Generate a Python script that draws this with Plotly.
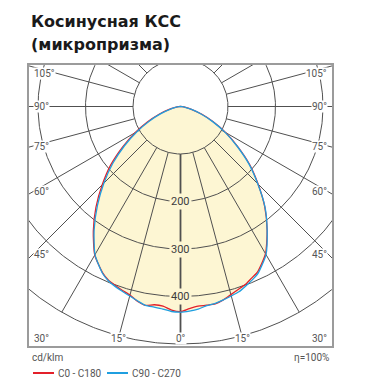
import numpy as np
import plotly.graph_objects as go

# ---------------------------------------------------------------------------
# Data
# ---------------------------------------------------------------------------
title_lines = ["Косинусная КСС", "(микропризма)"]
unit_label = "cd/klm"
efficiency_label = "η=100%"
series_names = ["C0 - C180", "C90 - C270"]

# Gamma angles from nadir, degrees
gamma = [0, 2.5, 5, 7.5, 10, 12.5, 15, 17.5, 20, 22.5, 25,
         30, 35, 40, 45, 50, 55, 60, 65, 70, 75, 80, 85, 90]

# Luminous intensity, cd/klm, per C-plane
c0 = [432, 426, 422, 422, 422, 417, 410, 404, 399, 391, 384,
      358, 318, 276, 231, 190, 147, 110, 76, 48, 25, 11, 4, 0]
c180 = [432, 429, 422, 421, 425, 420, 411, 406, 401, 396, 387,
        361, 320, 277, 233, 192, 149, 111, 77, 49, 26, 11, 4, 0]
c90 = [433, 431, 428, 423, 421, 417, 413, 409, 402, 395, 387,
       360, 318, 277, 230, 188, 145, 108, 74, 46, 24, 10, 3, 0]
c270 = [433, 432, 428, 426, 425, 419, 413, 408, 403, 397, 388,
        360, 317, 272, 228, 186, 144, 106, 72, 45, 23, 9, 3, 0]

ring_values = [100, 200, 300, 400, 500]
ring_label_values = [200, 300, 400]
spoke_angles = list(range(-180, 181, 15))
angle_label_values = [0, 15, 30, 45, 60, 75, 90, 105]

# ---------------------------------------------------------------------------
# Styling / geometry
# ---------------------------------------------------------------------------
W, H = 366, 383
ML, MR, MT, MB = 29, 34, 65, 37
PW, PH = W - ML - MR, H - MT - MB
PX_PER_UNIT = 0.475
CX, CY = 180.5, 106.5          # pole position on the page, px

x_range = [-(CX - ML) / PX_PER_UNIT, (W - MR - CX) / PX_PER_UNIT]
y_range = [-(H - MB - CY) / PX_PER_UNIT, (CY - MT) / PX_PER_UNIT]

FILL = "rgb(253,246,211)"
GRID = "#505050"
RED = "#e3202a"
BLUE = "#1f9fe0"
LABEL_FONT = dict(family="Roboto, sans-serif", size=10, color="#555555")


def paper_x(px):
    return (px - ML) / PW


def paper_y(py):
    return 1 - (py - MT) / PH


def polar_xy(theta_deg, r):
    t = np.radians(np.asarray(theta_deg, dtype=float))
    r = np.asarray(r, dtype=float)
    return r * np.sin(t), -r * np.cos(t)


def profile(left, right):
    """Full -90..90 profile: left half-plane mirrored to negative angles."""
    g = np.asarray(gamma, dtype=float)
    ang = np.concatenate([-g[::-1], g[1:]])
    val = np.concatenate([np.asarray(left)[::-1], np.asarray(right)[1:]])
    return polar_xy(ang, val)


fig = go.Figure()

# Filled light body
fx, fy = profile(c270, c90)
fig.add_trace(go.Scatter(x=fx, y=fy, mode="lines", fill="toself",
                         fillcolor=FILL, line=dict(width=0, shape="spline", smoothing=0.6),
                         hoverinfo="skip", showlegend=False))

# Rings
ring_x, ring_y = [], []
th = np.linspace(0, 360, 721)
for rv in ring_values:
    x, y = polar_xy(th, np.full_like(th, rv))
    ring_x += list(x) + [None]
    ring_y += list(y) + [None]
fig.add_trace(go.Scatter(x=ring_x, y=ring_y, mode="lines",
                         line=dict(color=GRID, width=1),
                         hoverinfo="skip", showlegend=False))

# Spokes from the inner ring to the outer ring
sp_x, sp_y = [], []
for a in spoke_angles:
    if a == 0:
        continue
    x, y = polar_xy([a, a], [ring_values[0], ring_values[-1]])
    sp_x += list(x) + [None]
    sp_y += list(y) + [None]
fig.add_trace(go.Scatter(x=sp_x, y=sp_y, mode="lines",
                         line=dict(color=GRID, width=1),
                         hoverinfo="skip", showlegend=False))
# Nadir spoke, slightly heavier
nx, ny = polar_xy([0, 0], [ring_values[0], ring_values[-1]])
fig.add_trace(go.Scatter(x=nx, y=ny, mode="lines",
                         line=dict(color=GRID, width=1.8),
                         hoverinfo="skip", showlegend=False))

# Photometric curves
rx, ry = profile(c180, c0)
fig.add_trace(go.Scatter(x=rx, y=ry, mode="lines", name=series_names[0],
                         line=dict(color=RED, width=1.3, shape="spline", smoothing=0.6),
                         showlegend=False))
bx, by = profile(c270, c90)
fig.add_trace(go.Scatter(x=bx, y=by, mode="lines", name=series_names[1],
                         line=dict(color=BLUE, width=1.3, shape="spline", smoothing=0.6),
                         showlegend=False))

annotations = []

# Ring value labels along the nadir spoke
for rv in ring_label_values:
    annotations.append(dict(x=0, y=-rv, xref="x", yref="y", text=str(rv),
                            showarrow=False, bgcolor=FILL, borderpad=1,
                            font=dict(family="Roboto, sans-serif", size=11,
                                      color="#3c3c3c")))

# Angle labels along the frame
side_x = (CX - 33) / PX_PER_UNIT          # label inset from the side frame
bottom_y = -(338 - CY) / PX_PER_UNIT      # row of the bottom labels
top_y = (CY - 73) / PX_PER_UNIT           # highest allowed label row
for a in angle_label_values:
    for sgn in ([1] if a == 0 else [-1, 1]):
        rad = np.radians(a)
        if a >= 30:
            y = -side_x * np.cos(rad) / np.sin(rad)
            y = min(max(y, bottom_y), top_y)
            x = sgn * side_x
            xa = "left" if sgn < 0 else "right"
        else:
            y = bottom_y
            x = sgn * (-bottom_y) * np.tan(rad)
            xa = "center"
        annotations.append(dict(x=x, y=y, xref="x", yref="y", text=f"{a}°",
                                xanchor=xa, yanchor="middle", showarrow=False,
                                bgcolor="white", borderpad=0, font=LABEL_FONT))

# Title
for i, line in enumerate(title_lines):
    annotations.append(dict(x=paper_x(29), y=paper_y(21.5 + 23 * i),
                            xref="paper", yref="paper", text=f"<b>{line}</b>",
                            xanchor="left", yanchor="middle", showarrow=False,
                            font=dict(family="DejaVu Sans, sans-serif", size=16,
                                      color="#1a1a1a")))

# Captions under the frame
annotations.append(dict(x=paper_x(30), y=paper_y(357), xref="paper", yref="paper",
                        text=unit_label, xanchor="left", yanchor="middle",
                        showarrow=False, font=LABEL_FONT))
annotations.append(dict(x=paper_x(331), y=paper_y(357), xref="paper", yref="paper",
                        text=efficiency_label, xanchor="right", yanchor="middle",
                        showarrow=False, font=LABEL_FONT))

# Legend
shapes = []
legend_items = [(series_names[0], RED, 33), (series_names[1], BLUE, 107)]
for name, color, x0 in legend_items:
    shapes.append(dict(type="line", xref="paper", yref="paper",
                       x0=paper_x(x0), x1=paper_x(x0 + 21),
                       y0=paper_y(373), y1=paper_y(373),
                       line=dict(color=color, width=2)))
    annotations.append(dict(x=paper_x(x0 + 23), y=paper_y(373), xref="paper",
                            yref="paper", text=name, xanchor="left",
                            yanchor="middle", showarrow=False, font=LABEL_FONT))

axis_common = dict(showgrid=False, zeroline=False, showticklabels=False,
                   ticks="", showline=True, mirror=True, linecolor="#9b9b9b",
                   linewidth=2, fixedrange=True)

fig.update_layout(
    width=W, height=H,
    margin=dict(l=ML, r=MR, t=MT, b=MB, pad=0),
    paper_bgcolor="white", plot_bgcolor="white",
    xaxis=dict(range=x_range, **axis_common),
    yaxis=dict(range=y_range, **axis_common),
    annotations=annotations, shapes=shapes,
    showlegend=False,
)

fig.write_html("out.html")
